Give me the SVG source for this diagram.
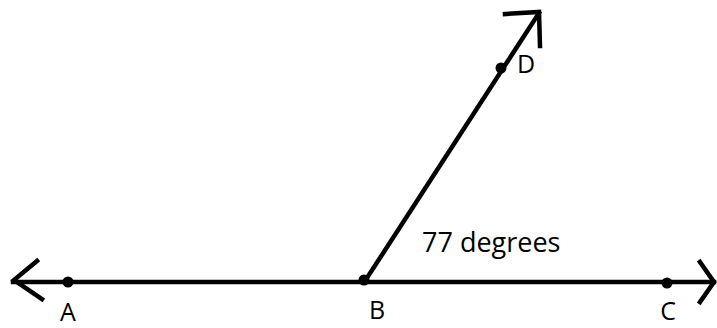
<svg xmlns="http://www.w3.org/2000/svg" width="717" height="328" viewBox="0 0 717 328">
<style>
.ln{stroke:#000;stroke-width:4.5;fill:none;stroke-linecap:square;stroke-linejoin:miter}
.dot{fill:#000}
.lbl{font-family:"Open Sans","Liberation Sans",sans-serif;font-size:25px;fill:#000}
</style>
<rect width="717" height="328" fill="#fff"/>
<g id="connectors">
<path class="ln" d="M13 282 H714"/>
<path class="ln" d="M37 261 L14 280 L42 299"/>
<path class="ln" d="M700 262 L714 282 L700 302"/>
<path class="ln" d="M365 281 L539 13"/>
<path class="ln" d="M505 14 L539 12 L540 46"/>
</g>
<g id="A"><circle class="dot" cx="68" cy="282" r="5.5"/><text class="lbl" x="68" y="321" text-anchor="middle">A</text></g>
<g id="B"><circle class="dot" cx="364" cy="280" r="5.5"/><text class="lbl" x="377" y="319" text-anchor="middle">B</text></g>
<g id="C"><circle class="dot" cx="667" cy="283" r="5.5"/><text class="lbl" x="668" y="320" text-anchor="middle">C</text></g>
<g id="D"><circle class="dot" cx="501" cy="68" r="5.5"/><text class="lbl" x="517" y="73">D</text></g>
<g id="angle"><text class="lbl" x="422" y="252" style="font-size:27px">77 degrees</text></g>
</svg>
